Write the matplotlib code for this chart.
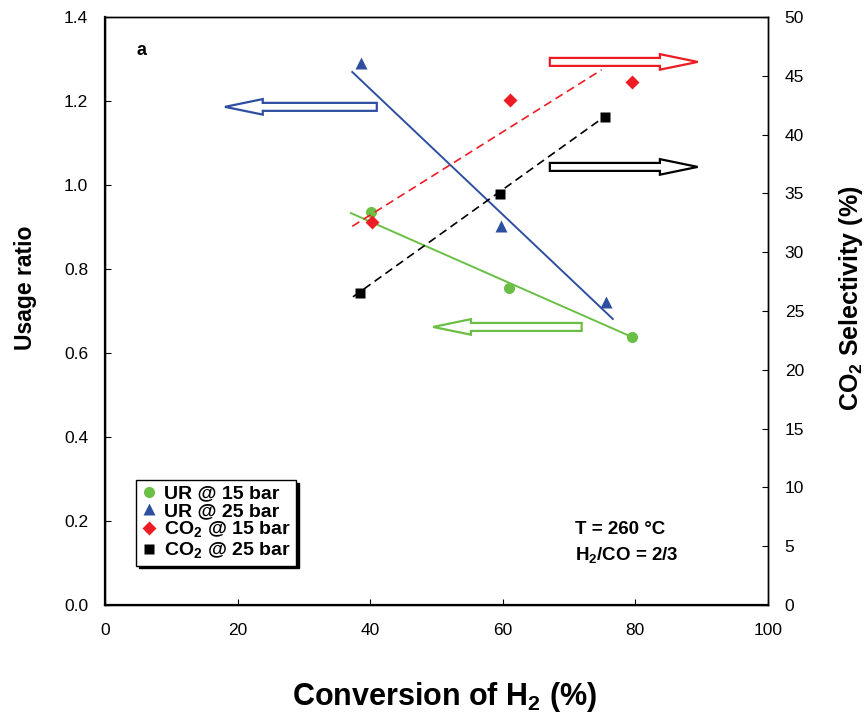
import numpy as np
import matplotlib
matplotlib.use("Agg")
import matplotlib.pyplot as plt
from matplotlib.patches import FancyArrow
from matplotlib.lines import Line2D

plt.rcParams["font.family"] = ["Liberation Sans", "DejaVu Sans"]
plt.rcParams["mathtext.fontset"] = "custom"
plt.rcParams["mathtext.rm"] = "Liberation Sans:bold"
plt.rcParams["mathtext.bf"] = "Liberation Sans:bold"

# usage ratio (left axis)
ur15_x = [40.1, 60.9, 79.5]
ur15_y = [0.936, 0.755, 0.638]
ur25_x = [38.6, 59.7, 75.6]
ur25_y = [1.29, 0.902, 0.721]

# CO2 selectivity (right axis, %)
co2_15_x = [40.3, 61.1, 79.5]
co2_15_y = [32.6, 42.9, 44.5]
co2_25_x = [38.5, 59.6, 75.4]
co2_25_y = [26.5, 34.95, 41.5]

# trend lines as drawn in the figure (end points)
ur15_line_x, ur15_line_y = [37.1, 79.5], [0.933, 0.638]
ur25_line_x, ur25_line_y = [37.3, 76.6], [1.269, 0.681]
co2_15_line_x, co2_15_line_y = [37.3, 74.9], [32.2, 45.5]
co2_25_line_x, co2_25_line_y = [37.4, 74.8], [26.2, 41.3]

green = "#6ABF45"
blue = "#2E4FA0"
red = "#ED1C24"
black = "#000000"

fig = plt.figure(figsize=(8.66, 7.13), dpi=100)
ax = fig.add_axes([0.1212, 0.1515, 0.7656, 0.8247])
ax2 = ax.twinx()

ax.plot(ur15_line_x, ur15_line_y, color=green, lw=1.4)
ax.plot(ur25_line_x, ur25_line_y, color=blue, lw=1.4)
ax.plot(ur15_x, ur15_y, "o", color=green, ms=8, mec="none")
ax.plot(ur25_x, ur25_y, "^", color=blue, ms=9, mec="none")

ax2.plot(co2_15_line_x, co2_15_line_y, color=red, lw=1.2, ls=(0, (5, 3)))
ax2.plot(co2_25_line_x, co2_25_line_y, color=black, lw=1.2, ls=(0, (5, 3)))
ax2.plot(co2_15_x, co2_15_y, "D", color=red, ms=7, mec="none")
ax2.plot(co2_25_x, co2_25_y, "s", color=black, ms=7.5, mec="none")

# hollow arrows pointing to each series' axis: (tail x, tip x, y, colour)
arrows = [(41.0, 18.1, 1.186, blue), (67.1, 89.4, 1.293, red),
          (67.1, 89.4, 1.043, black), (71.9, 49.5, 0.662, green)]
for x0, x1, y, c in arrows:
    ax.add_patch(FancyArrow(x0, y, x1 - x0, 0, width=0.019, head_width=0.037,
                            head_length=5.7, length_includes_head=True,
                            fc="white", ec=c, lw=1.6, zorder=5, clip_on=False))

ax.set_xlim(0, 100)
ax.set_ylim(0, 1.4)
ax2.set_ylim(0, 50)
ax.set_xticks(np.arange(0, 101, 20))
ax.set_yticks(np.arange(0, 1.41, 0.2))
ax.set_yticklabels([f"{v:.1f}" for v in np.arange(0, 1.41, 0.2)])
ax2.set_yticks(np.arange(0, 51, 5))

ax.tick_params(axis="x", direction="in", length=4, labelsize=12.5, pad=13)
ax.tick_params(axis="y", direction="in", length=4, labelsize=12.5, pad=12)
ax2.tick_params(axis="y", direction="in", length=4, labelsize=12.5, pad=12)
for a in (ax, ax2):
    for s in a.spines.values():
        s.set_linewidth(1.0)
ax.spines["left"].set_linewidth(1.6)
ax.spines["bottom"].set_linewidth(1.6)

ax.set_xlabel("Conversion of H$_2$ (%)", fontsize=22, fontweight="bold")
ax.xaxis.set_label_coords(0.512, -0.127)
ax.set_ylabel("Usage ratio", fontsize=16.5, fontweight="bold")
ax.yaxis.set_label_coords(-0.102, 0.54)
ax2.set_ylabel("CO$_2$ Selectivity (%)", fontsize=18, fontweight="bold")
ax2.yaxis.set_label_coords(1.104, 0.522)

ax.text(4.8, 1.32, "a", fontsize=13, fontweight="bold", va="center")
ax.text(70.9, 0.179, "T = 260 °C", fontsize=13.5, fontweight="bold", va="center")
ax.text(70.9, 0.117, "H$_2$/CO = 2/3", fontsize=13.5, fontweight="bold", va="center")

handles = [
    Line2D([], [], ls="none", marker="o", color=green, ms=8, mec="none"),
    Line2D([], [], ls="none", marker="^", color=blue, ms=9, mec="none"),
    Line2D([], [], ls="none", marker="D", color=red, ms=7, mec="none"),
    Line2D([], [], ls="none", marker="s", color=black, ms=7.5, mec="none"),
]
labels = ["UR @ 15 bar", "UR @ 25 bar", "CO$_2$ @ 15 bar", "CO$_2$ @ 25 bar"]
leg = ax2.legend(handles, labels, loc="upper left", bbox_to_anchor=(0.047, 0.2126),
                 frameon=True, fancybox=False, edgecolor="black", framealpha=1,
                 shadow={"color": "black", "alpha": 1}, handlelength=0.8,
                 handletextpad=0.4, labelspacing=0.0, borderpad=0.25, borderaxespad=0,
                 prop={"weight": "bold", "size": 14})
leg.get_frame().set_linewidth(1.0)

fig.savefig("out.png", dpi=100)
